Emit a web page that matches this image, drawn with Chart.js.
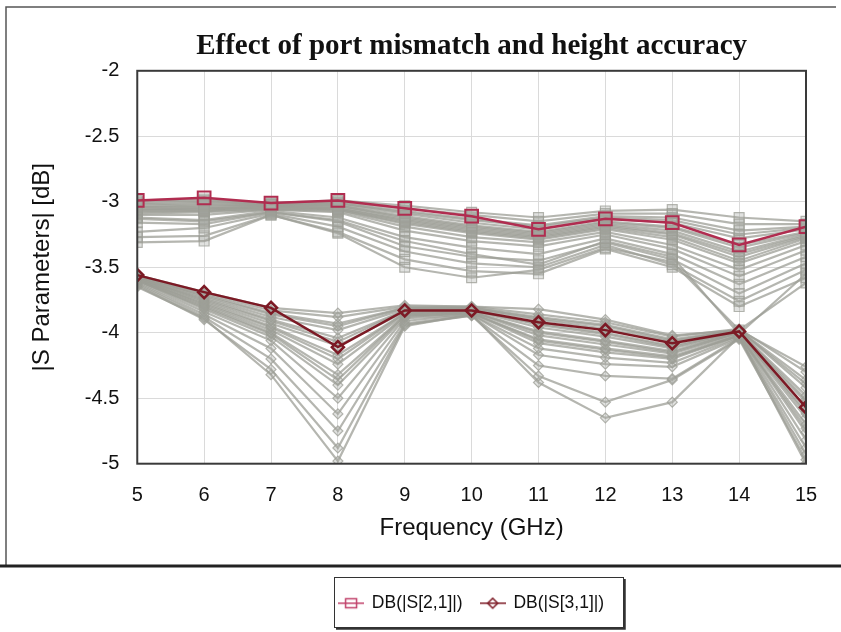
<!DOCTYPE html>
<html>
<head>
<meta charset="utf-8">
<script src="https://cdn.jsdelivr.net/npm/chart.js@4.4.0/dist/chart.umd.min.js"></script>
<style>
  html, body { margin: 0; padding: 0; background: #fff; }
  #wrap { width: 841px; height: 632px; }
</style>
</head>
<body>
<div id="wrap"><canvas id="sparamChart" width="841" height="632"></canvas></div>
<script>
// frequency sweep (GHz)
const freqGHz = [5, 6, 7, 8, 9, 10, 11, 12, 13, 14, 15];

// nominal responses (dB)
const s21Nominal = [-2.99, -2.97, -3.01, -2.99, -3.05, -3.11, -3.21, -3.13, -3.16, -3.33, -3.19];
const s31Nominal = [-3.56, -3.69, -3.81, -4.11, -3.83, -3.83, -3.92, -3.98, -4.08, -3.99, -4.57];

// toleranced runs, |S21| (dB)
const s21Runs = [
    [-2.99, -2.98, -3.01, -2.99, -3.03, -3.08, -3.12, -3.07, -3.06, -3.12, -3.15],
    [-3.00, -2.99, -3.02, -3.00, -3.05, -3.10, -3.15, -3.09, -3.09, -3.17, -3.17],
    [-3.01, -3.00, -3.02, -3.01, -3.07, -3.13, -3.18, -3.11, -3.12, -3.22, -3.19],
    [-3.02, -3.01, -3.02, -3.01, -3.08, -3.14, -3.19, -3.12, -3.14, -3.25, -3.20],
    [-3.03, -3.02, -3.03, -3.02, -3.09, -3.16, -3.21, -3.13, -3.16, -3.28, -3.21],
    [-3.04, -3.03, -3.03, -3.03, -3.11, -3.18, -3.23, -3.15, -3.19, -3.33, -3.23],
    [-3.04, -3.04, -3.03, -3.03, -3.12, -3.19, -3.24, -3.16, -3.20, -3.35, -3.24],
    [-3.05, -3.05, -3.04, -3.04, -3.13, -3.20, -3.25, -3.17, -3.22, -3.38, -3.25],
    [-3.06, -3.05, -3.04, -3.05, -3.14, -3.21, -3.26, -3.18, -3.24, -3.40, -3.26],
    [-3.06, -3.06, -3.04, -3.05, -3.15, -3.22, -3.27, -3.19, -3.25, -3.42, -3.27],
    [-3.07, -3.07, -3.05, -3.06, -3.16, -3.23, -3.28, -3.20, -3.27, -3.45, -3.28],
    [-3.08, -3.07, -3.05, -3.06, -3.17, -3.24, -3.29, -3.21, -3.29, -3.47, -3.30],
    [-3.09, -3.08, -3.06, -3.07, -3.19, -3.27, -3.31, -3.23, -3.33, -3.52, -3.33],
    [-3.10, -3.10, -3.06, -3.08, -3.22, -3.30, -3.34, -3.25, -3.36, -3.57, -3.37],
    [-3.12, -3.14, -3.07, -3.12, -3.27, -3.35, -3.40, -3.28, -3.40, -3.63, -3.42],
    [-3.16, -3.17, -3.08, -3.15, -3.34, -3.42, -3.45, -3.31, -3.44, -3.70, -3.47],
    [-3.23, -3.20, -3.09, -3.19, -3.38, -3.47, -3.50, -3.33, -3.48, -3.76, -3.52],
    [-3.27, -3.26, -3.10, -3.23, -3.44, -3.53, -3.55, -3.36, -3.50, -3.80, -3.58],
    [-3.31, -3.30, -3.10, -3.24, -3.50, -3.58, -3.52, -3.35, -3.46, -3.98, -3.62],
    [-3.13, -3.15, -3.08, -3.14, -3.30, -3.40, -3.48, -3.30, -3.42, -4.01, -3.55]
];

// toleranced runs, |S31| (dB)
const s31Runs = [
    [-3.56, -3.69, -3.81, -3.85, -3.79, -3.80, -3.82, -3.90, -4.02, -3.98, -4.26],
    [-3.56, -3.70, -3.83, -3.88, -3.80, -3.80, -3.86, -3.92, -4.03, -3.97, -4.30],
    [-3.57, -3.71, -3.85, -3.93, -3.81, -3.81, -3.88, -3.94, -4.05, -3.98, -4.36],
    [-3.57, -3.72, -3.86, -3.95, -3.81, -3.81, -3.89, -3.95, -4.06, -3.98, -4.39],
    [-3.57, -3.73, -3.88, -3.98, -3.82, -3.82, -3.90, -3.97, -4.07, -3.98, -4.42],
    [-3.58, -3.74, -3.90, -4.04, -3.83, -3.83, -3.93, -4.00, -4.10, -3.99, -4.48],
    [-3.58, -3.75, -3.91, -4.07, -3.83, -3.82, -3.94, -4.01, -4.11, -3.99, -4.51],
    [-3.58, -3.76, -3.93, -4.10, -3.84, -3.83, -3.96, -4.03, -4.12, -4.00, -4.53],
    [-3.59, -3.77, -3.95, -4.17, -3.85, -3.84, -3.99, -4.06, -4.14, -4.00, -4.60],
    [-3.59, -3.78, -3.96, -4.20, -3.85, -3.84, -4.00, -4.07, -4.15, -4.00, -4.62],
    [-3.59, -3.79, -3.98, -4.24, -3.86, -3.84, -4.02, -4.09, -4.16, -4.01, -4.65],
    [-3.60, -3.80, -4.00, -4.32, -3.87, -3.85, -4.05, -4.12, -4.18, -4.02, -4.70],
    [-3.60, -3.81, -4.01, -4.36, -3.87, -3.85, -4.06, -4.13, -4.19, -4.02, -4.73],
    [-3.60, -3.82, -4.03, -4.40, -3.88, -3.85, -4.08, -4.15, -4.20, -4.02, -4.76],
    [-3.61, -3.84, -4.06, -4.50, -3.89, -3.86, -4.12, -4.19, -4.23, -4.03, -4.82],
    [-3.62, -3.86, -4.12, -4.62, -3.91, -3.86, -4.17, -4.24, -4.26, -4.04, -4.88],
    [-3.63, -3.88, -4.20, -4.75, -3.93, -3.87, -4.25, -4.33, -4.35, -4.04, -4.93],
    [-3.64, -3.90, -4.28, -4.88, -3.94, -3.87, -4.33, -4.53, -4.36, -4.05, -4.97],
    [-3.65, -3.89, -4.32, -4.98, -3.95, -3.86, -4.38, -4.65, -4.53, -4.03, -5.00]
];

const s21Color = '#b02d50';
const s31Color = '#7c1a25';
const runColor = 'rgba(156, 158, 150, 0.75)';
const runFill = 'rgba(170, 172, 165, 0.35)';
const sansFont = "'Liberation Sans', Arial, sans-serif";

function toPoints(values) {
    return values.map((v, i) => ({x: freqGHz[i], y: v}));
}

// small "line + marker" icons for the legend
function legendIcon(color, shape) {
    let c = document.createElement('canvas');
    c.width = 26;
    c.height = 16;
    let g = c.getContext('2d');
    g.strokeStyle = color;
    g.lineWidth = 1.5;
    g.beginPath();
    g.moveTo(0, 8);
    g.lineTo(26, 8);
    g.stroke();
    g.beginPath();
    if (shape === 'rect') {
        g.rect(7.5, 3.5, 11, 9);
    } else {
        g.moveTo(13, 3); g.lineTo(18, 8); g.lineTo(13, 13); g.lineTo(8, 8); g.closePath();
    }
    g.stroke();
    return c;
}

let datasets = [
    {
        label: 'DB(|S[2,1]|)',
        data: toPoints(s21Nominal),
        borderColor: s21Color,
        borderWidth: 2.5,
        pointStyle: 'rect',
        pointRadius: 9,
        pointBorderWidth: 2,
        pointBorderColor: s21Color,
        pointBackgroundColor: 'rgba(0,0,0,0)'
    },
    {
        label: 'DB(|S[3,1]|)',
        data: toPoints(s31Nominal),
        borderColor: s31Color,
        borderWidth: 2.5,
        pointStyle: 'rectRot',
        pointRadius: 6,
        pointBorderWidth: 2.5,
        pointBorderColor: s31Color,
        pointBackgroundColor: 'rgba(0,0,0,0)'
    }
];

s21Runs.forEach((run) => {
    datasets.push({
        label: 'S21 run',
        data: toPoints(run),
        borderColor: runColor,
        borderWidth: 2.2,
        pointStyle: 'rect',
        pointRadius: 7,
        pointBorderWidth: 1.2,
        pointBorderColor: runColor,
        pointBackgroundColor: runFill
    });
});

s31Runs.forEach((run) => {
    datasets.push({
        label: 'S31 run',
        data: toPoints(run),
        borderColor: runColor,
        borderWidth: 2.2,
        pointStyle: 'rectRot',
        pointRadius: 5,
        pointBorderWidth: 1.2,
        pointBorderColor: runColor,
        pointBackgroundColor: runFill
    });
});

// white page, plot frame, outer frame and the box around the legend
const framePlugin = {
    id: 'frames',
    beforeDraw(chart) {
        let ctx = chart.ctx;
        ctx.save();
        ctx.fillStyle = '#fff';
        ctx.fillRect(0, 0, chart.width, chart.height);
        ctx.restore();
    },
    afterDraw(chart) {
        let ctx = chart.ctx;
        let a = chart.chartArea;
        ctx.save();
        ctx.strokeStyle = '#3a3a3a';
        ctx.lineWidth = 2;
        ctx.strokeRect(a.left, a.top, a.right - a.left, a.bottom - a.top);

        // outer frame
        ctx.strokeStyle = '#555';
        ctx.lineWidth = 1.5;
        ctx.beginPath();
        ctx.moveTo(6, 565);
        ctx.lineTo(6, 7);
        ctx.lineTo(836, 7);
        ctx.stroke();
        ctx.strokeStyle = '#222';
        ctx.lineWidth = 3;
        ctx.beginPath();
        ctx.moveTo(0, 566);
        ctx.lineTo(841, 566);
        ctx.stroke();

        // legend box
        let boxes = chart.legend.legendHitBoxes;
        if (boxes && boxes.length) {
            let first = boxes[0];
            let last = boxes[boxes.length - 1];
            let cy = first.top + first.height / 2;
            let x0 = Math.round(first.left - 5);
            let x1 = Math.round(last.left + last.width + 19);
            let y0 = Math.round(cy - 26);
            let y1 = Math.round(cy + 24);
            ctx.strokeStyle = '#333';
            ctx.lineWidth = 1;
            ctx.strokeRect(x0 + 0.5, y0 + 0.5, x1 - x0, y1 - y0);
            ctx.lineWidth = 2.5;
            ctx.beginPath();
            ctx.moveTo(x1 + 1.5, y0 + 2);
            ctx.lineTo(x1 + 1.5, y1 + 1.5);
            ctx.lineTo(x0 + 2, y1 + 1.5);
            ctx.stroke();
        }
        ctx.restore();
    }
};

const s21Icon = legendIcon('#c0406a', 'rect');
const s31Icon = legendIcon(s31Color, 'diamond');

let ctx = document.getElementById('sparamChart');
let sparamChart = new Chart(ctx, {
    type: 'line',
    data: {datasets: datasets},
    plugins: [framePlugin],
    options: {
        responsive: false,
        animation: false,
        layout: {padding: {top: 29, left: 28, right: 35, bottom: 10}},
        elements: {line: {tension: 0}},
        plugins: {
            tooltip: {enabled: false},
            title: {
                display: true,
                fullSize: false,
                text: 'Effect of port mismatch and height accuracy',
                color: '#111',
                font: {family: "'Liberation Serif', 'Times New Roman', serif", size: 29, weight: 'bold'},
                padding: {top: 0, bottom: 7}
            },
            legend: {
                position: 'bottom',
                fullSize: false,
                labels: {
                    color: '#111',
                    font: {family: sansFont, size: 17.5},
                    usePointStyle: true,
                    pointStyleWidth: 24,
                    padding: 18,
                    generateLabels: () => [
                        {text: datasets[0].label, pointStyle: s21Icon, datasetIndex: 0, fontColor: '#111',
                         fillStyle: 'transparent', strokeStyle: 'transparent', lineWidth: 0},
                        {text: datasets[1].label, pointStyle: s31Icon, datasetIndex: 1, fontColor: '#111',
                         fillStyle: 'transparent', strokeStyle: 'transparent', lineWidth: 0}
                    ]
                }
            }
        },
        scales: {
            x: {
                type: 'linear',
                min: 5,
                max: 15,
                ticks: {stepSize: 1, color: '#111', padding: 20, font: {family: sansFont, size: 20}},
                grid: {color: '#dadada', drawTicks: false},
                border: {display: false},
                title: {
                    display: true,
                    text: 'Frequency (GHz)',
                    color: '#111',
                    font: {family: sansFont, size: 24},
                    padding: {top: -14, bottom: 34}
                }
            },
            y: {
                min: -5,
                max: -2,
                ticks: {
                    stepSize: 0.5,
                    color: '#111',
                    padding: 18,
                    font: {family: sansFont, size: 20},
                    callback: (v) => String(Math.round(v * 10) / 10)
                },
                grid: {color: '#dadada', drawTicks: false},
                border: {display: false},
                title: {
                    display: true,
                    text: '|S Parameters| [dB]',
                    color: '#111',
                    font: {family: sansFont, size: 24},
                    padding: {top: 0, bottom: 10}
                }
            }
        }
    }
});
</script>
</body>
</html>
